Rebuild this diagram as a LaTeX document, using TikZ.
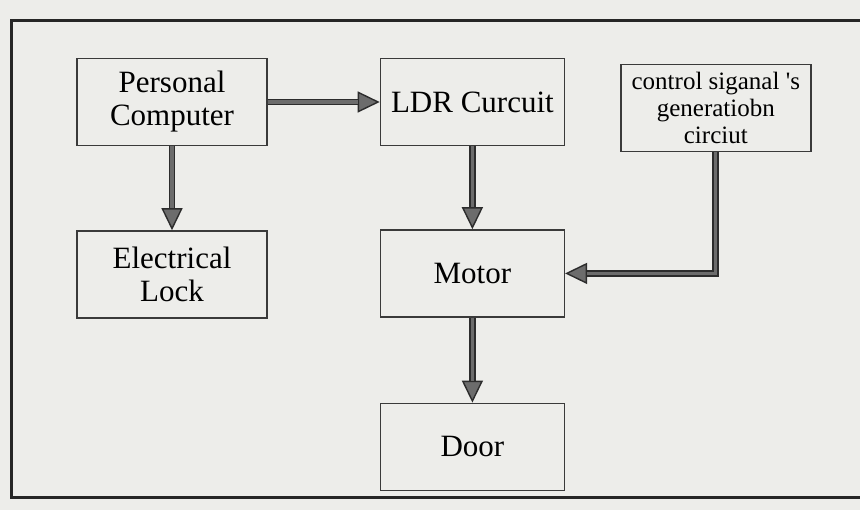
\documentclass[tikz,border=0pt]{standalone}
\usepackage{fontspec}
\setmainfont{Liberation Serif}
\usetikzlibrary{arrows.meta,positioning}
\definecolor{paper}{HTML}{EDEDEA}
\definecolor{boxink}{HTML}{3A3A3A}
\definecolor{flowink}{HTML}{2C2C2C}
\definecolor{flowfill}{HTML}{6C6C6C}

\begin{document}
\begin{tikzpicture}[
  block/.style={draw=boxink, line width=0.7pt, fill=paper,
                minimum width=95pt, minimum height=43.5pt,
                inner sep=3pt, align=center,
                font=\fontsize{15.5}{16.5}\selectfont},
  narrow/.style={minimum width=92pt},
  small/.style={font=\fontsize{12.5}{13.5}\selectfont},
  flow/.style={draw=flowink, line width=3.4pt,
               -{Triangle[length=11pt,width=10.5pt,fill=flowfill,line width=0.7pt]},
               postaction={draw=flowfill, line width=1.6pt, -, shorten >=11pt}},
]
% --- Page and outer frame ---
\fill[paper, use as bounding box] (-86pt,51pt) rectangle (344pt,-204pt);
\draw[line width=1.5pt, black!85] (350pt,41pt) -| (-80pt,-197.5pt) -- (350pt,-197.5pt);

% --- Blocks ---
\node[block] (pc) {Personal\\Computer};
\node[block, narrow, right=56pt of pc] (ldr) {LDR Curcuit};
\node[block, small, right=27.5pt of ldr, yshift=-3pt] (ctrl)
  {control siganal \textquotesingle s\\generatiobn\\circiut};
\node[block, below=42pt of pc] (lock) {Electrical\\Lock};
\node[block, narrow, below=41.5pt of ldr] (motor) {Motor};
\node[block, narrow, below=42.5pt of motor] (door) {Door};

% --- Connectors ---
\draw[flow] (pc) -- (lock);
\draw[flow] (pc) -- (ldr);
\draw[flow] (ldr) -- (motor);
\draw[flow] (motor) -- (door);
\draw[flow] (ctrl.south) |- (motor.east);
\end{tikzpicture}
\end{document}
